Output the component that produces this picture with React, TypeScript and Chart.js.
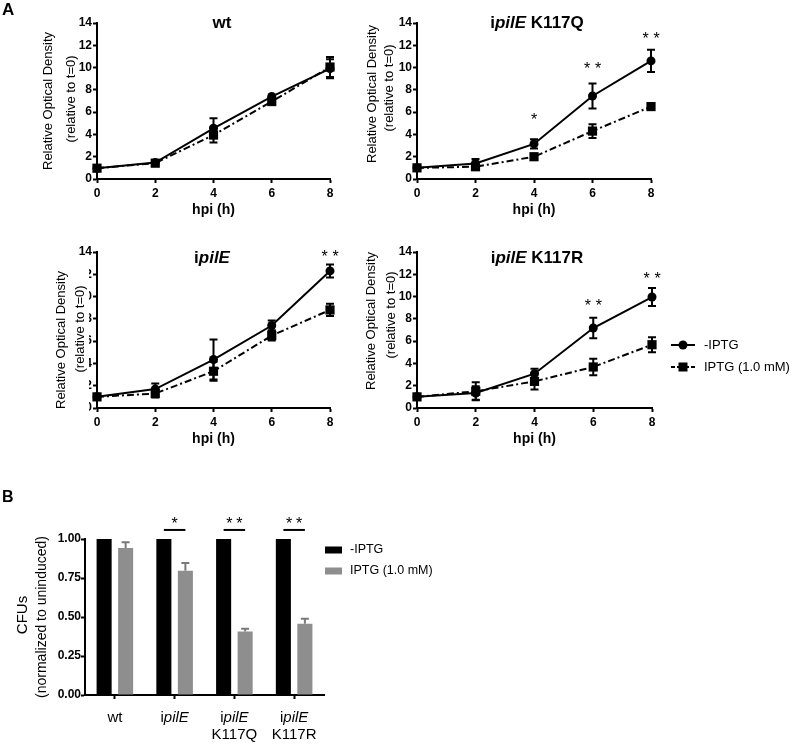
import React, { useEffect, useRef } from 'react';
import { Chart, registerables } from 'chart.js';
Chart.register(...registerables);

const FONT = "'Liberation Sans', Arial, Helvetica, sans-serif";
Chart.defaults.font.family = FONT;

// ---------- Data (panel A: growth curves) ----------
const hours = [0, 2, 4, 6, 8];
const seriesLabels = ['-IPTG', 'IPTG (1.0 mM)'];

const wtNoIptg = [0.97, 1.47, 4.55, 7.4, 9.9];
const wtNoIptgErr = [0.08, 0.2, 0.9, 0.2, 0.85];
const wtIptg = [0.97, 1.42, 3.95, 6.95, 10.05];
const wtIptgErr = [0.08, 0.2, 0.68, 0.2, 0.9];

const k117qNoIptg = [1.0, 1.4, 3.15, 7.45, 10.6];
const k117qNoIptgErr = [0.05, 0.4, 0.42, 1.12, 1.0];
const k117qIptg = [1.0, 1.1, 2.0, 4.3, 6.5];
const k117qIptgErr = [0.05, 0.1, 0.1, 0.62, 0.1];

const ipileNoIptg = [1.0, 1.7, 4.35, 7.4, 12.3];
const ipileNoIptgErr = [0.05, 0.5, 1.8, 0.45, 0.58];
const ipileIptg = [1.0, 1.3, 3.3, 6.5, 8.8];
const ipileIptgErr = [0.05, 0.35, 0.85, 0.45, 0.55];

const k117rNoIptg = [1.0, 1.35, 3.08, 7.18, 9.96];
const k117rNoIptgErr = [0.05, 0.6, 0.45, 0.93, 0.8];
const k117rIptg = [1.0, 1.5, 2.39, 3.68, 5.68];
const k117rIptgErr = [0.05, 0.8, 0.72, 0.75, 0.68];

const k117qStarX = [4, 6, 8];
const k117qStarY = [5.75, 10.25, 12.95];
const k117qStarText = ['*', '**', '**'];
const ipileStarX = [8];
const ipileStarY = [14.0];
const ipileStarText = ['**'];
const k117rStarX = [6, 8];
const k117rStarY = [9.57, 11.96];
const k117rStarText = ['**', '**'];

// ---------- Data (panel B: CFUs) ----------
const strainLabels = [['wt'], ['ipilE'], ['ipilE', 'K117Q'], ['ipilE', 'K117R']];
const cfuNoIptg = [1, 1, 1, 1];
const cfuIptg = [0.942, 0.797, 0.407, 0.456];
const cfuIptgErr = [0.037, 0.049, 0.017, 0.032];
const cfuStars = ['', '*', '**', '**'];

// ---------- helpers ----------
function richParts(text: string) {
  return text.split(/(pilE)/).filter(Boolean).map((t) => ({ t, it: t === 'pilE' }));
}
function drawRich(ctx: CanvasRenderingContext2D, text: string, x: number, y: number, size: number, weight: string, align: 'center' | 'left') {
  const parts = richParts(text);
  const fontFor = (it: boolean) => `${it ? 'italic ' : ''}${weight} ${size}px ${FONT}`;
  let total = 0;
  const widths = parts.map((p) => { ctx.font = fontFor(p.it); const w = ctx.measureText(p.t).width; total += w; return w; });
  let cx = align === 'center' ? x - total / 2 : x;
  ctx.textAlign = 'left';
  ctx.textBaseline = 'middle';
  parts.forEach((p, i) => { ctx.font = fontFor(p.it); ctx.fillText(p.t, cx, y); cx += widths[i]; });
}
function drawRotated(ctx: CanvasRenderingContext2D, text: string, x: number, y: number, font: string) {
  ctx.save();
  ctx.translate(x, y);
  ctx.rotate(-Math.PI / 2);
  ctx.font = font;
  ctx.textAlign = 'center';
  ctx.textBaseline = 'middle';
  ctx.fillText(text, 0, 0);
  ctx.restore();
}
function drawStars(ctx: CanvasRenderingContext2D, text: string, cx: number, cy: number, size: number, gap: number) {
  ctx.font = `normal ${size}px ${FONT}`;
  ctx.textAlign = 'center';
  ctx.textBaseline = 'alphabetic';
  const n = text.length;
  for (let i = 0; i < n; i++) {
    const x = cx + (i - (n - 1) / 2) * gap;
    ctx.fillText('*', x, cy + 0.6 * size);
  }
}
function errBar(ctx: CanvasRenderingContext2D, x: number, y1: number, y2: number, cap: number) {
  ctx.beginPath();
  ctx.moveTo(x, y1); ctx.lineTo(x, y2);
  ctx.moveTo(x - cap, y1); ctx.lineTo(x + cap, y1);
  ctx.moveTo(x - cap, y2); ctx.lineTo(x + cap, y2);
  ctx.stroke();
}

type Panel = {
  left: number; top: number; width: number; height: number;
  yAxisWidth: number; padRight: number;
  noIptg: number[]; noErr: number[]; iptg: number[]; iptgErr: number[];
  starX: number[]; starY: number[]; starText: string[];
  title: string; titleX: number; titleY: number;
  yTitleX: number[]; yTitleDy: number[];
  cover?: boolean; legend?: boolean; letter?: string;
};

const panels: Panel[] = [
  { left: 0, top: 0, width: 340, height: 229, yAxisWidth: 97, padRight: 10,
    noIptg: wtNoIptg, noErr: wtNoIptgErr, iptg: wtIptg, iptgErr: wtIptgErr,
    starX: [], starY: [], starText: [], title: 'wt', titleX: 222, titleY: 23,
    yTitleX: [48.7, 71], yTitleDy: [0, -2], letter: 'A' },
  { left: 340, top: 0, width: 340, height: 229, yAxisWidth: 77, padRight: 29,
    noIptg: k117qNoIptg, noErr: k117qNoIptgErr, iptg: k117qIptg, iptgErr: k117qIptgErr,
    starX: k117qStarX, starY: k117qStarY, starText: k117qStarText, title: 'ipilE K117Q', titleX: 197, titleY: 23,
    yTitleX: [32.3, 49.5], yTitleDy: [-7, -13] },
  { left: 0, top: 229, width: 340, height: 229, yAxisWidth: 97, padRight: 10,
    noIptg: ipileNoIptg, noErr: ipileNoIptgErr, iptg: ipileIptg, iptgErr: ipileIptgErr,
    starX: ipileStarX, starY: ipileStarY, starText: ipileStarText, title: 'ipilE', titleX: 212, titleY: 29,
    yTitleX: [61.7, 80], yTitleDy: [10, -1], cover: true },
  { left: 340, top: 229, width: 460, height: 229, yAxisWidth: 77, padRight: 148,
    noIptg: k117rNoIptg, noErr: k117rNoIptgErr, iptg: k117rIptg, iptgErr: k117rIptgErr,
    starX: k117rStarX, starY: k117rStarY, starText: k117rStarText, title: 'ipilE K117R', titleX: 197, titleY: 29,
    yTitleX: [31.7, 51.7], yTitleDy: [-9, -15], legend: true },
];

const axisGrid = { drawOnChartArea: false, drawTicks: true, tickLength: 4, tickWidth: 2, tickColor: '#000', color: '#000' };
const axisBorder = { color: '#000', width: 2 };
const tickFont = { size: 12, weight: 'bold' as const, family: FONT };

function lineConfig(p: Panel): any {
  const extras = {
    id: 'extras',
    afterDatasetsDraw(chart: any) {
      const ctx = chart.ctx as CanvasRenderingContext2D;
      const xs = chart.scales.x, ys = chart.scales.y;
      ctx.save();
      ctx.strokeStyle = '#000';
      ctx.lineWidth = 2;
      const series: number[][][] = [[p.noIptg, p.noErr], [p.iptg, p.iptgErr]];
      series.forEach(([v, e]) => {
        hours.forEach((h, i) => {
          const x = xs.getPixelForValue(h);
          const y1 = ys.getPixelForValue(v[i] - e[i]);
          const y2 = ys.getPixelForValue(v[i] + e[i]);
          if (Math.abs(y1 - y2) < 5) return;
          errBar(ctx, x, y1, y2, 4);
        });
      });
      ctx.restore();
    },
    afterDraw(chart: any) {
      const ctx = chart.ctx as CanvasRenderingContext2D;
      const xs = chart.scales.x, ys = chart.scales.y;
      const area = chart.chartArea;
      ctx.save();
      ctx.fillStyle = '#000';
      if (p.cover) {
        ctx.fillStyle = '#fff';
        ctx.fillRect(47, 32, 42, 155);
        ctx.fillStyle = '#000';
      }
      // panel title
      drawRich(ctx, p.title, p.titleX, p.titleY, 17, 'bold', 'center');
      // y axis title
      const cy = (area.top + area.bottom) / 2;
      drawRotated(ctx, 'Relative Optical Density', p.yTitleX[0], cy + p.yTitleDy[0], `13px ${FONT}`);
      drawRotated(ctx, '(relative to t=0)', p.yTitleX[1], cy + p.yTitleDy[1], `13px ${FONT}`);
      // significance stars
      p.starX.forEach((sx, i) => {
        drawStars(ctx, p.starText[i], xs.getPixelForValue(sx), ys.getPixelForValue(p.starY[i]), 16, 11);
      });
      if (p.letter) {
        ctx.font = `bold 17px ${FONT}`;
        ctx.textAlign = 'left';
        ctx.textBaseline = 'middle';
        ctx.fillText(p.letter, 2, 10);
      }
      if (p.legend) {
        const ds = chart.data.datasets;
        const rows = [116, 138];
        const x1 = 331, x2 = 355, tx = 364;
        rows.forEach((ry, i) => {
          ctx.strokeStyle = ds[i].borderColor;
          ctx.lineWidth = 2;
          ctx.setLineDash(i === 0 ? [] : [4, 2, 2, 2]);
          ctx.beginPath(); ctx.moveTo(x1, ry); ctx.lineTo(x2, ry); ctx.stroke();
          ctx.setLineDash([]);
          ctx.fillStyle = ds[i].backgroundColor;
          const mx = (x1 + x2) / 2;
          if (i === 0) { ctx.beginPath(); ctx.arc(mx, ry, 4.5, 0, Math.PI * 2); ctx.fill(); }
          else { ctx.fillRect(mx - 4.5, ry - 4.5, 9, 9); }
          ctx.fillStyle = '#000';
          ctx.font = `13px ${FONT}`;
          ctx.textAlign = 'left';
          ctx.textBaseline = 'middle';
          ctx.fillText(ds[i].label, tx, ry);
        });
      }
      ctx.restore();
    },
  };
  return {
    type: 'line',
    data: {
      datasets: [
        { label: seriesLabels[0], data: hours.map((h, i) => ({ x: h, y: p.noIptg[i] })),
          borderColor: '#000', backgroundColor: '#000', borderWidth: 2, pointStyle: 'circle', pointRadius: 4.5,
          pointBorderWidth: 0, tension: 0, clip: false },
        { label: seriesLabels[1], data: hours.map((h, i) => ({ x: h, y: p.iptg[i] })),
          borderColor: '#000', backgroundColor: '#000', borderWidth: 2, borderDash: [7, 3, 2, 3], pointStyle: 'rect',
          pointRadius: 6.5, pointBorderWidth: 0, tension: 0, clip: false },
      ],
    },
    options: {
      responsive: false, animation: false, devicePixelRatio: 1, events: [],
      layout: { padding: { top: 23, right: p.padRight, left: 0, bottom: 0 } },
      plugins: { legend: { display: false }, tooltip: { enabled: false } },
      scales: {
        x: { type: 'linear', min: 0, max: 8,
          ticks: { stepSize: 2, font: tickFont, color: '#000', padding: 3 },
          grid: axisGrid, border: axisBorder,
          title: { display: true, text: 'hpi (h)', color: '#000', font: { size: 14, weight: 'bold', family: FONT }, padding: { top: 0, bottom: 10 } },
          afterFit: (s: any) => { s.height = 50; } },
        y: { type: 'linear', min: 0, max: 14,
          ticks: { stepSize: 2, font: tickFont, color: '#000', padding: 1 },
          grid: axisGrid, border: axisBorder,
          afterFit: (s: any) => { s.width = p.yAxisWidth; } },
      },
    },
    plugins: [extras],
  };
}

function barConfig(): any {
  const extras = {
    id: 'barExtras',
    afterDraw(chart: any) {
      const ctx = chart.ctx as CanvasRenderingContext2D;
      const xs = chart.scales.x, ys = chart.scales.y;
      const area = chart.chartArea;
      const m0 = chart.getDatasetMeta(0).data, m1 = chart.getDatasetMeta(1).data;
      ctx.save();
      // error bars (upward)
      ctx.strokeStyle = '#7a7a7a';
      ctx.lineWidth = 2;
      cfuIptg.forEach((v, i) => {
        const x = m1[i].x;
        const yTop = ys.getPixelForValue(v + cfuIptgErr[i]);
        const yBar = ys.getPixelForValue(v);
        ctx.beginPath(); ctx.moveTo(x, yBar); ctx.lineTo(x, yTop);
        ctx.moveTo(x - 4, yTop); ctx.lineTo(x + 4, yTop); ctx.stroke();
      });
      // significance
      ctx.strokeStyle = '#000';
      ctx.fillStyle = '#000';
      cfuStars.forEach((s, i) => {
        if (!s) return;
        const xa = m0[i].x, xb = m1[i].x;
        const ly = ys.getPixelForValue(1.058);
        ctx.beginPath(); ctx.moveTo(xa, ly); ctx.lineTo(xb, ly); ctx.stroke();
        drawStars(ctx, s, (xa + xb) / 2, ys.getPixelForValue(1.128), 16, 10);
      });
      // x labels
      ctx.fillStyle = '#000';
      strainLabels.forEach((lines, i) => {
        const x = xs.getPixelForValue(i);
        lines.forEach((ln, j) => drawRich(ctx, ln, x, 238 + j * 17, 15, 'normal', 'center'));
      });
      // y title
      const cy = (area.top + area.bottom) / 2;
      drawRotated(ctx, 'CFUs', 23, cy - 2, `15px ${FONT}`);
      drawRotated(ctx, '(normalized to uninduced)', 42, cy, `14px ${FONT}`);
      // letter
      ctx.font = `bold 16px ${FONT}`;
      ctx.textAlign = 'left';
      ctx.textBaseline = 'middle';
      ctx.fillText('B', 2, 18);
      // legend
      const ds = chart.data.datasets;
      [70, 91].forEach((ry, i) => {
        ctx.fillStyle = ds[i].backgroundColor;
        ctx.fillRect(325, ry - 3.5, 17, 7);
        ctx.fillStyle = '#000';
        ctx.font = `12.5px ${FONT}`;
        ctx.textAlign = 'left';
        ctx.textBaseline = 'middle';
        ctx.fillText(ds[i].label, 350, ry);
      });
      ctx.restore();
    },
  };
  return {
    type: 'bar',
    data: {
      labels: strainLabels.map((l) => l.join(' ')),
      datasets: [
        { label: seriesLabels[0], data: cfuNoIptg, backgroundColor: '#000', categoryPercentage: 0.72, barPercentage: 0.7 },
        { label: seriesLabels[1], data: cfuIptg, backgroundColor: '#8e8e8e', categoryPercentage: 0.72, barPercentage: 0.7 },
      ],
    },
    options: {
      responsive: false, animation: false, devicePixelRatio: 1, events: [],
      layout: { padding: { top: 59, right: 156, left: 0, bottom: 0 } },
      plugins: { legend: { display: false }, tooltip: { enabled: false } },
      scales: {
        x: { grid: { ...axisGrid, offset: false }, border: axisBorder, ticks: { display: false },
          afterFit: (s: any) => { s.height = 50; } },
        y: { min: 0, max: 1,
          ticks: { stepSize: 0.25, callback: (v: any) => Number(v).toFixed(2), font: tickFont, color: '#000', padding: 0 },
          grid: axisGrid, border: axisBorder,
          afterFit: (s: any) => { s.width = 85; } },
      },
    },
    plugins: [extras],
  };
}

function ChartCanvas({ left, top, width, height, make }: { left: number; top: number; width: number; height: number; make: () => any }) {
  const ref = useRef<HTMLCanvasElement>(null);
  useEffect(() => {
    const c = new Chart(ref.current as HTMLCanvasElement, make());
    return () => c.destroy();
  }, []);
  return <canvas ref={ref} width={width} height={height} style={{ position: 'absolute', left, top, width, height }} />;
}

export default function App() {
  return (
    <div style={{ position: 'absolute', left: 0, top: 0, width: 800, height: 745, background: '#fff', overflow: 'hidden' }}>
      {panels.map((p, i) => (
        <ChartCanvas key={i} left={p.left} top={p.top} width={p.width} height={p.height} make={() => lineConfig(p)} />
      ))}
      <ChartCanvas left={0} top={480} width={480} height={265} make={barConfig} />
    </div>
  );
}
